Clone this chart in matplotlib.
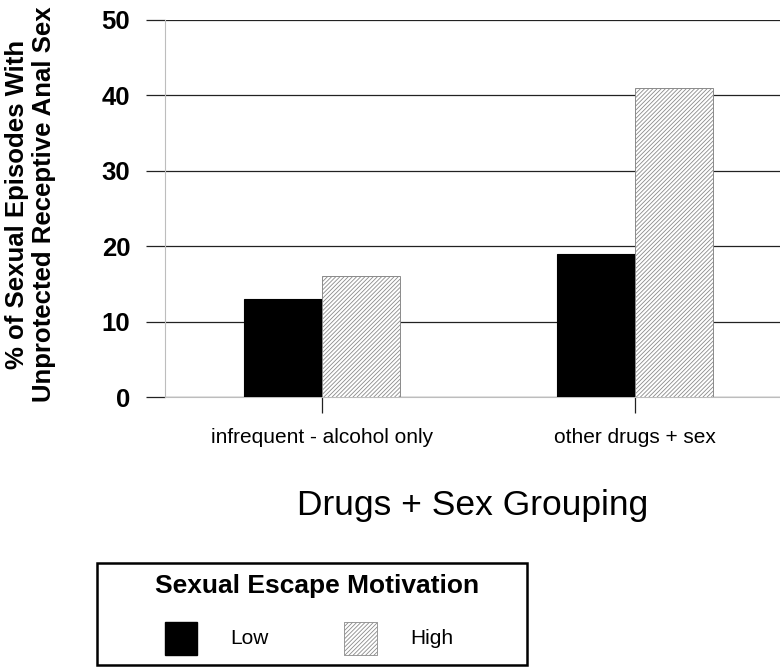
import numpy as np
import matplotlib
matplotlib.use("Agg")
import matplotlib.pyplot as plt
from matplotlib.patches import Rectangle

plt.rcParams['font.family'] = ['Liberation Sans', 'DejaVu Sans']
plt.rcParams['hatch.linewidth'] = 0.6

# data
groups = ['infrequent - alcohol only', 'other drugs + sex']
series = ['Low', 'High']
low_vals = [13, 19]
high_vals = [16, 41]
yticks = [0, 10, 20, 30, 40, 50]

HATCH = '////////'
HATCH_EDGE = '#8a8a8a'

fig = plt.figure(figsize=(7.8, 6.71), dpi=100)
ax = fig.add_axes([0.2115, 0.4083, 0.7885, 0.5619])

x = np.arange(len(groups))
w = 0.25
ax.bar(x - w / 2, low_vals, width=w, color='black', edgecolor='black', linewidth=0.8, zorder=3)
ax.bar(x + w / 2, high_vals, width=w, color='white', edgecolor=HATCH_EDGE,
       hatch=HATCH, linewidth=0.7, zorder=3)

ax.set_ylim(0, 50)
ax.set_xlim(-0.502, 1.463)
ax.set_yticks(yticks)
ax.set_yticklabels([str(t) for t in yticks], fontsize=18.5, fontweight='bold')
ax.yaxis.grid(True, color='#222222', linewidth=0.9, zorder=1)
ax.tick_params(axis='y', length=14, width=0.9, color='#222222', pad=11)
ax.set_xticks(x)
ax.set_xticklabels(groups, fontsize=15)
ax.tick_params(axis='x', length=11.5, width=0.9, color='#222222', pad=11)

for s in ['top', 'right']:
    ax.spines[s].set_visible(False)
ax.spines['left'].set_color('#bdbdbd')
ax.spines['left'].set_linewidth(0.8)
ax.spines['bottom'].set_color('#bdbdbd')
ax.spines['bottom'].set_linewidth(0.8)

ax.set_xlabel('Drugs + Sex Grouping', fontsize=25.5, labelpad=30)

fig.text(0.039, 0.695, '% of Sexual Episodes With\nUnprotected Receptive Anal Sex',
         rotation=90, ha='center', va='center', fontsize=18.5, fontweight='bold',
         linespacing=1.12, multialignment='center')

# legend box drawn in figure pixels
W, H = 780, 671
def fx(px):
    return px / W
def fy(py):
    return 1 - py / H

fig.add_artist(Rectangle((fx(97), fy(665)), fx(527) - fx(97), fy(563) - fy(665),
                         transform=fig.transFigure, facecolor='white',
                         edgecolor='black', linewidth=1.8))
fig.text(fx(317), fy(586), 'Sexual Escape Motivation', ha='center', va='center',
         fontsize=19, fontweight='black')
fig.add_artist(Rectangle((fx(165), fy(655)), fx(197) - fx(165), fy(622) - fy(655),
                         transform=fig.transFigure, facecolor='black', edgecolor='black'))
fig.text(fx(230), fy(638), series[0], ha='left', va='center', fontsize=15)
fig.add_artist(Rectangle((fx(344), fy(655)), fx(377) - fx(344), fy(622) - fy(655),
                         transform=fig.transFigure, facecolor='white', edgecolor=HATCH_EDGE,
                         hatch=HATCH, linewidth=0.6))
fig.text(fx(410), fy(638), series[1], ha='left', va='center', fontsize=15)

fig.savefig('out.png', dpi=100)
